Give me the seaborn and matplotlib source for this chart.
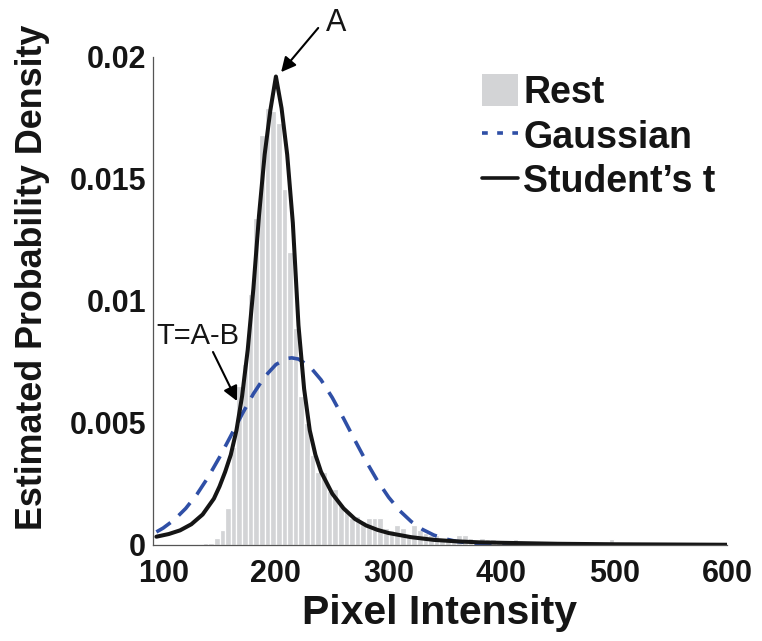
import numpy as np
import pandas as pd
import matplotlib
matplotlib.use("Agg")
import matplotlib.pyplot as plt
import seaborn as sns
from matplotlib.patches import Patch
from matplotlib.lines import Line2D

# ---------------- data ----------------
bin_width = 5
bin_left = list(range(130, 600, 5))
rest_density = [
    0.00003, 0.00010, 0.00008, 0.00030, 0.00060, 0.00150, 0.00400, 0.00650,
    0.00740, 0.01030, 0.01340, 0.01680, 0.01790, 0.01780, 0.01730, 0.01460,
    0.01200, 0.00890, 0.00610, 0.00500, 0.00370, 0.00300, 0.00300, 0.00220,
    0.00230, 0.00170, 0.00140, 0.00110, 0.00120, 0.00100, 0.00110, 0.00110,
    0.00110, 0.00070, 0.00060, 0.00080, 0.00070, 0.00040, 0.00080, 0.00060,
    0.00050, 0.00040, 0.00040, 0.00030, 0.00030, 0.00030, 0.00040, 0.00040,
    0.00030, 0.00020, 0.00030, 0.00025, 0.00025, 0.00020, 0.00020, 0.00015,
    0.00025, 0.00010, 0.00010, 0.00008, 0.00010, 0.00012, 0.00012, 0.00008,
    0.00006, 0.00005, 0.00007, 0.00005, 0.00006, 0.00005, 0.00005, 0.00005,
    0.00006, 0.00025, 0.00004, 0.00003, 0.00003, 0.00004, 0.00003, 0.00003,
    0.00002, 0.00003, 0.00002, 0.00002, 0.00003, 0.00002, 0.00002, 0.00002,
    0.00002, 0.00001, 0.00002, 0.00001, 0.00001, 0.00001,
]

gauss_x = [94, 100, 110, 120, 130, 140, 150, 160, 170, 180, 190, 200, 210, 214,
           220, 230, 240, 250, 260, 270, 280, 290, 300, 310, 320, 330, 340, 350,
           360, 370, 380, 400, 420, 450, 500, 550, 600]
gauss_y = [0.000535, 0.000694, 0.001038, 0.001497, 0.002080, 0.002787, 0.003597,
           0.004473, 0.005362, 0.006194, 0.006895, 0.007397, 0.007647, 0.007670,
           0.007620, 0.007316, 0.006769, 0.006037, 0.005186, 0.004295, 0.003428,
           0.002636, 0.001954, 0.001395, 0.000960, 0.000637, 0.000407, 0.000251,
           0.000149, 0.000085, 0.000047, 0.000013, 0.000003, 0.0, 0.0, 0.0, 0.0]

t_x = [94, 105, 115, 125, 135, 145, 150, 155, 160, 165, 170, 175, 180, 185, 190,
       195, 200, 205, 210, 215, 220, 225, 230, 235, 240, 250, 260, 270, 280, 290,
       300, 320, 340, 360, 380, 400, 450, 500, 550, 600]
t_y = [0.00034, 0.00045, 0.00060, 0.00085, 0.00125, 0.00190, 0.00240, 0.00300,
       0.00370, 0.00470, 0.00610, 0.00800, 0.01050, 0.01350, 0.01600, 0.01780,
       0.01920, 0.01790, 0.01600, 0.01320, 0.00900, 0.00640, 0.00470, 0.00370,
       0.00300, 0.00210, 0.00150, 0.00107, 0.00080, 0.00062, 0.00049, 0.00032,
       0.00021, 0.00015, 0.00011, 0.00009, 0.00005, 0.00003, 0.00002, 0.00001]

x_ticks = [100, 200, 300, 400, 500, 600]
y_ticks = [0, 0.005, 0.01, 0.015, 0.02]
y_tick_labels = ["0", "0.005", "0.01", "0.015", "0.02"]
legend_labels = ["Rest", "Gaussian", "Student\u2019s t"]

# ---------------- style ----------------
sns.set_theme(style="white")
plt.rcParams["font.family"] = ["Liberation Sans", "DejaVu Sans"]

GRAY = "#D3D4D6"
BLUE = "#2F4FA6"
INK = "#151515"

fig = plt.figure(figsize=(7.62, 6.41), dpi=100)
ax = fig.add_axes([153 / 762, 1 - 545 / 641, (727 - 153) / 762, (545 - 57) / 641])

edges = bin_left + [bin_left[-1] + bin_width]
centers = [b + bin_width / 2 for b in bin_left]
hist_df = pd.DataFrame({"x": centers, "w": rest_density})
sns.histplot(data=hist_df, x="x", weights="w", bins=edges, stat="count",
             color=GRAY, edgecolor="white", linewidth=0.9, alpha=1.0, ax=ax)

sns.lineplot(x=gauss_x, y=gauss_y, ax=ax, color=BLUE, linewidth=2.6)
ax.lines[-1].set_dashes((4.7, 3.0))
sns.lineplot(x=t_x, y=t_y, ax=ax, color=INK, linewidth=2.9)

ax.set_xlim(91, 600)
ax.set_ylim(0, 0.02)
ax.set_xticks(x_ticks)
ax.set_xticklabels([str(v) for v in x_ticks])
ax.set_yticks(y_ticks)
ax.set_yticklabels(y_tick_labels)
ax.tick_params(axis="both", direction="in", length=4, width=0.8, color="#444444",
               labelsize=22)
ax.tick_params(axis="x", pad=10)
ax.tick_params(axis="y", pad=5)
for lab in ax.get_xticklabels() + ax.get_yticklabels():
    lab.set_fontweight("bold")
    lab.set_color(INK)

for s in ["top", "right"]:
    ax.spines[s].set_visible(False)
for s in ["left", "bottom"]:
    ax.spines[s].set_color("#555555")
    ax.spines[s].set_linewidth(0.9)

ax.set_xlabel("Pixel Intensity", fontsize=29.5, fontweight="bold", color=INK, labelpad=4)
ax.set_ylabel("Estimated Probability Density", fontsize=25.8, fontweight="bold",
              color=INK)
ax.yaxis.set_label_coords(-0.179, 0.549)

handles = [Patch(facecolor=GRAY, edgecolor="none"),
           Line2D([0], [0], color=BLUE, lw=2.6, dashes=(1.6, 2.6)),
           Line2D([0], [0], color=INK, lw=2.6)]
leg = ax.legend(handles, legend_labels, loc="upper left", bbox_to_anchor=(0.573, 0.965),
                frameon=False, borderpad=0, borderaxespad=0, handlelength=0.95,
                handleheight=0.95, handletextpad=0.15, labelspacing=0.2,
                prop={"size": 27, "weight": "bold"})
for t in leg.get_texts():
    t.set_color(INK)

# annotations
ax.annotate("", xy=(204.6, 0.01938), xytext=(237.5, 0.02119),
            arrowprops=dict(arrowstyle="-|>", color="black", lw=1.5,
                            mutation_scale=22, shrinkA=0, shrinkB=0),
            annotation_clip=False)
ax.text(253.5, 0.0214, "A", fontsize=22, ha="center", va="center",
        color=INK, clip_on=False)
ax.annotate("", xy=(165.5, 0.0059), xytext=(144.2, 0.00791),
            arrowprops=dict(arrowstyle="-|>", color="black", lw=1.5,
                            mutation_scale=22, shrinkA=0, shrinkB=0))
ax.text(130.8, 0.00855, "T=A-B", fontsize=21, ha="center", va="center",
        color=INK)

fig.savefig("out.png", dpi=100)
